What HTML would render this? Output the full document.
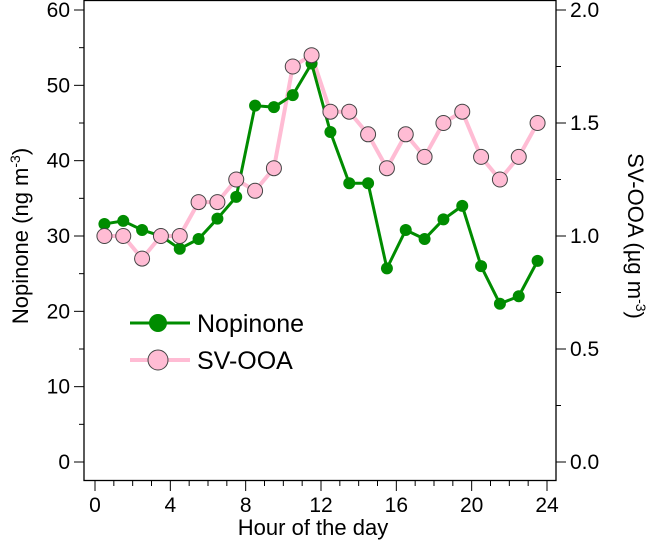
<!DOCTYPE html>
<html><head><meta charset="utf-8"><style>
body{margin:0;background:#fff}
svg{display:block;font-family:"Liberation Sans",Arial,sans-serif}
</style></head><body>
<svg id="chart" width="656" height="541">
<g id="axes"></g>
<g id="series"></g>
<g>
  <g>
    <line x1="130" y1="323" x2="190" y2="323" stroke="#008c00" stroke-width="3"/>
    <circle cx="158" cy="323" r="9" fill="#008c00"/>
    <text x="197" y="332" font-size="25">Nopinone</text>
  </g>
  <g>
    <line x1="130" y1="360" x2="190" y2="360" stroke="#ffbcd4" stroke-width="4"/>
    <circle cx="158" cy="360" r="10" fill="#ffbcd4" stroke="#444" stroke-width="1"/>
    <text x="197" y="369" font-size="25">SV-OOA</text>
  </g>
</g>
<text x="313" y="535" font-size="22" text-anchor="middle">Hour of the day</text>
<text transform="translate(28,236) rotate(-90)" font-size="22" text-anchor="middle">Nopinone (ng m<tspan dy="-8" font-size="14">-3</tspan><tspan dy="8">)</tspan></text>
<text transform="translate(628,236) rotate(90)" font-size="22" text-anchor="middle">SV-OOA (µg m<tspan dy="-8" font-size="14">-3</tspan><tspan dy="8">)</tspan></text>
</svg>
<script>
const hours=[0.5,1.5,2.5,3.5,4.5,5.5,6.5,7.5,8.5,9.5,10.5,11.5,12.5,13.5,14.5,15.5,16.5,17.5,18.5,19.5,20.5,21.5,22.5,23.5];
const nopinone=[31.6,32,30.8,30,28.3,29.6,32.3,35.2,47.3,47.1,48.7,52.9,43.8,37,37,25.7,30.8,29.6,32.2,34,26,21,22,26.7];
const svooa=[1.0,1.0,0.9,1.0,1.0,1.15,1.15,1.25,1.2,1.3,1.75,1.8,1.55,1.55,1.45,1.3,1.45,1.35,1.5,1.55,1.35,1.25,1.35,1.5];
const xTicks=[0,4,8,12,16,20,24];
const leftTicks=[0,10,20,30,40,50,60];
const rightTicks=["0.0","0.5","1.0","1.5","2.0"];

const NS="http://www.w3.org/2000/svg";
const X=h=>95+h*(452/24);
const YL=v=>462-v*(452/60);
const YR=v=>462-v*(452/2);
const L=84,R=556,T=0,B=480;
function mk(tag,attrs,parent){const e=document.createElementNS(NS,tag);for(const k in attrs)e.setAttribute(k,attrs[k]);parent.appendChild(e);return e;}
const ax=document.getElementById('axes');
const frame=mk('rect',{x:L,y:T+0.5,width:R-L,height:B-T,fill:'none',stroke:'#000','stroke-width':1.3},ax);


for(let h=0;h<=24;h++){const maj=h%4===0;mk('line',{x1:X(h),x2:X(h),y1:B,y2:B+(maj?11:6),stroke:'#000'},ax);}
xTicks.forEach(t=>{const e=mk('text',{x:X(t),y:B+32,'font-size':21,'text-anchor':'middle'},ax);e.textContent=t;

});
for(let v=0;v<=60;v+=5){const maj=v%10===0;mk('line',{x1:L,x2:L-(maj?10:5),y1:YL(v),y2:YL(v),stroke:'#000'},ax);}
leftTicks.forEach(t=>{const e=mk('text',{x:L-14,y:YL(t)+7,'font-size':21,'text-anchor':'end'},ax);e.textContent=t;

});
for(let v=0;v<=2.001;v+=0.25){const maj=Math.abs(v*2-Math.round(v*2))<1e-6;mk('line',{x1:R,x2:R+(maj?10:5),y1:YR(v),y2:YR(v),stroke:'#000'},ax);}
rightTicks.forEach(t=>{const e=mk('text',{x:R+14,y:YR(parseFloat(t))+7,'font-size':21},ax);e.textContent=t;

});

const sg=document.getElementById('series');
const p1=mk('polyline',{points:hours.map((h,i)=>X(h)+','+YR(svooa[i])).join(' '),fill:'none',stroke:'#ffbcd4','stroke-width':4},sg);


const p2=mk('polyline',{points:hours.map((h,i)=>X(h)+','+YL(nopinone[i])).join(' '),fill:'none',stroke:'#008c00','stroke-width':3},sg);


hours.forEach((h,i)=>{const c=mk('circle',{cx:X(h),cy:YL(nopinone[i]),r:6,fill:'#008c00'},sg);

});
hours.forEach((h,i)=>{const c=mk('circle',{cx:X(h),cy:YR(svooa[i]),r:7.5,fill:'#ffbcd4',stroke:'#444','stroke-width':1},sg);

});
</script>
</body></html>
